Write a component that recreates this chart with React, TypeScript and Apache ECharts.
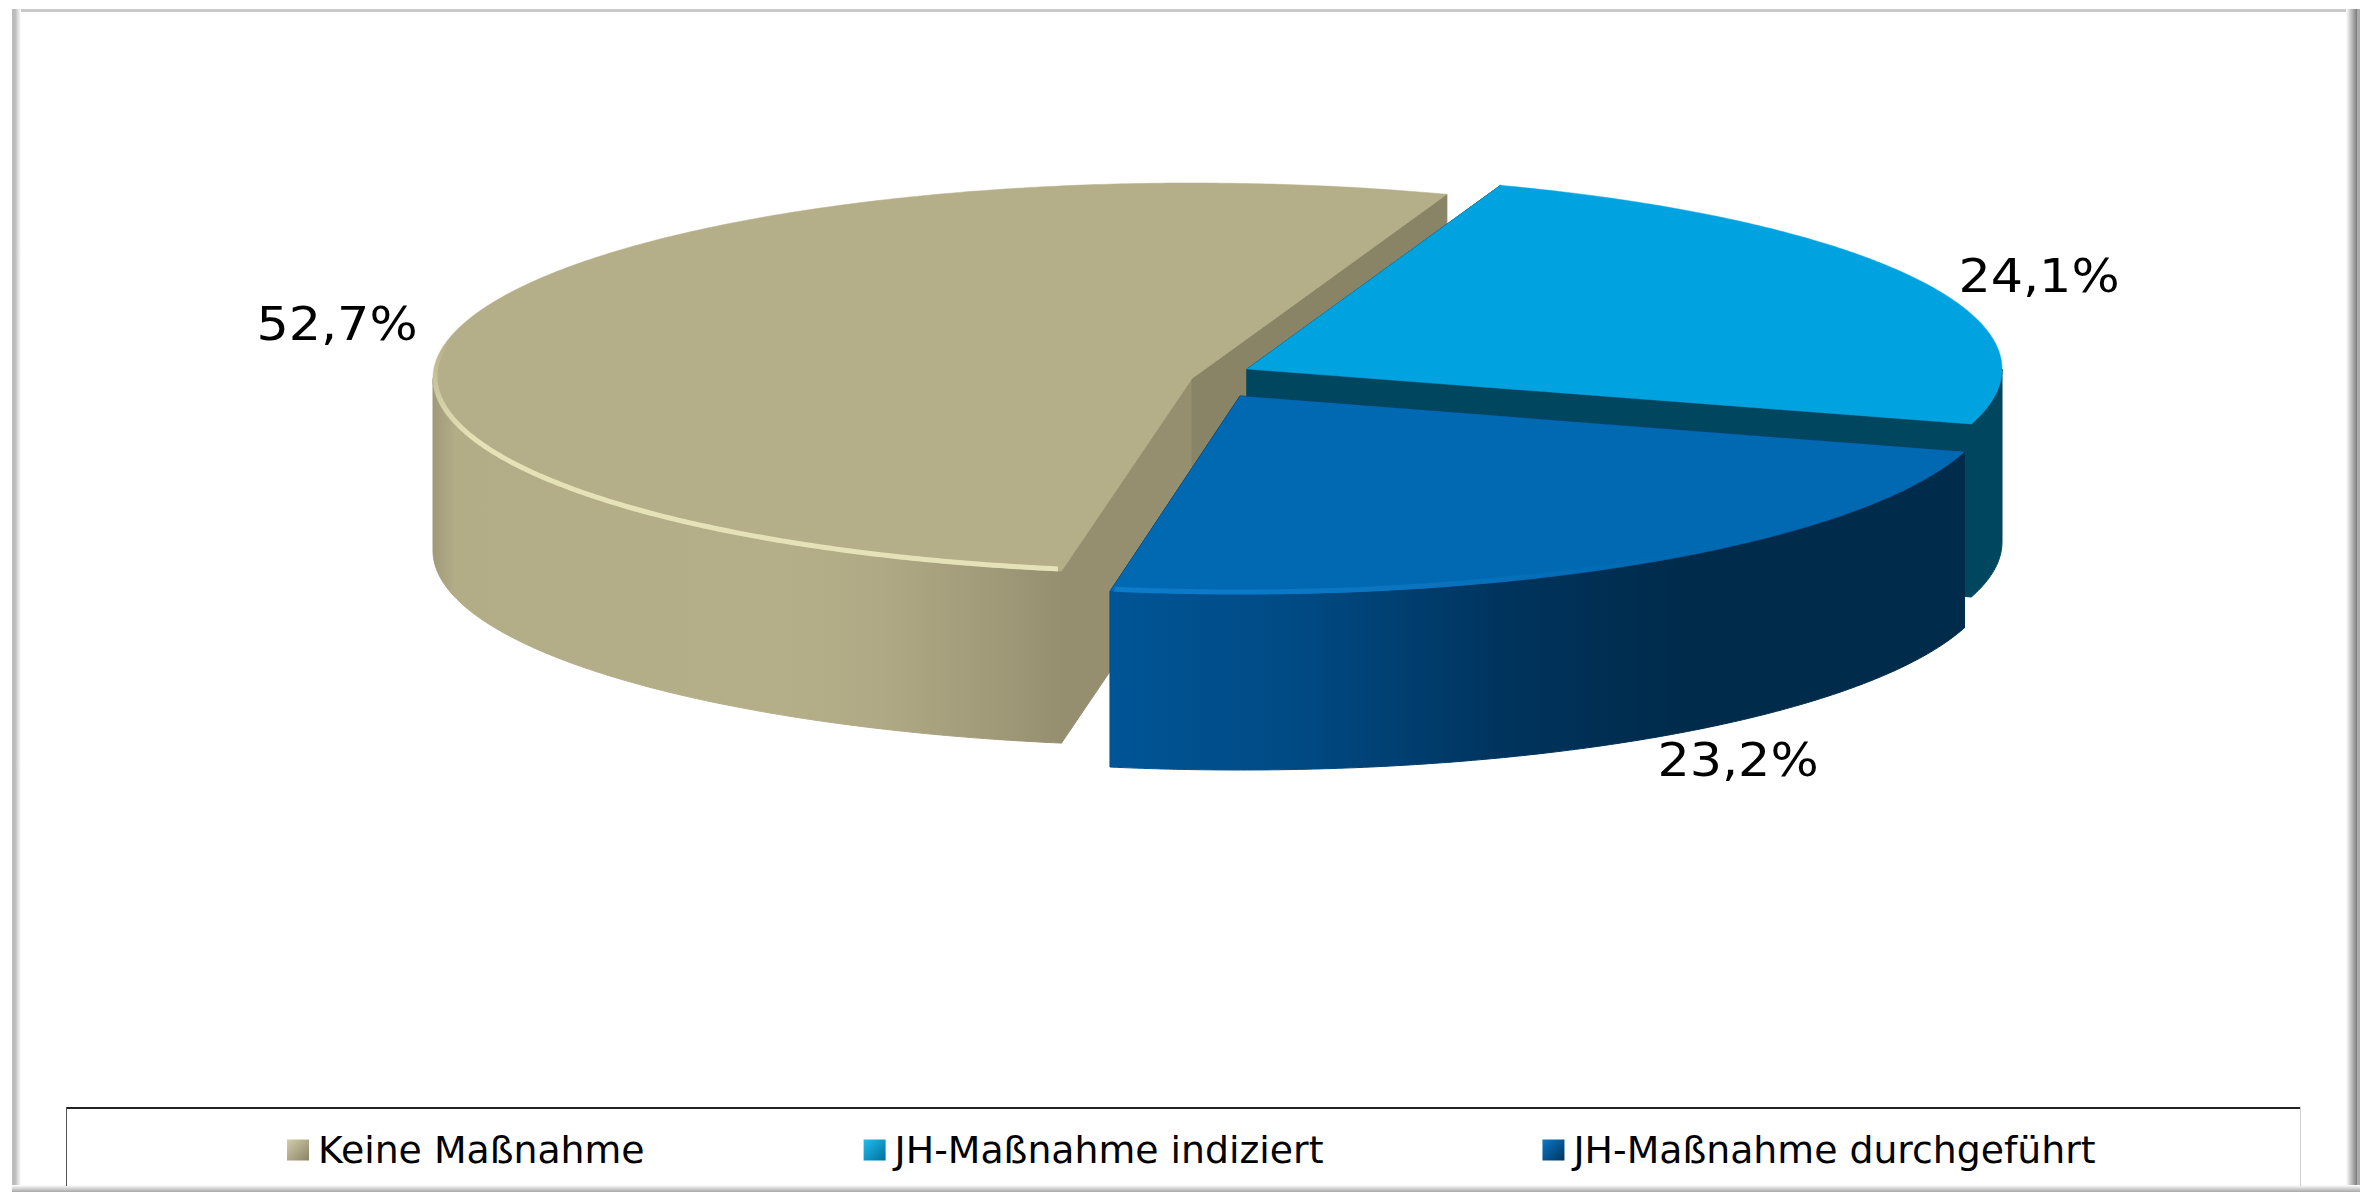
import React, { useEffect, useRef } from "react";
import * as echarts from "echarts";

const categories = ["Keine Maßnahme", "JH-Maßnahme indiziert", "JH-Maßnahme durchgeführt"];
const values = [52.7, 24.1, 23.2];
const valueLabels = ["52,7%", "24,1%", "23,2%"];

const W = 2370;
const H = 1192;
const FIRST_ANGLE = 189.9;
const centers = [[1192, 378.5], [1247, 369], [1240, 396]];
const radiiX = [759, 755, 755];
const radiiY = [195.5, 195, 198];
const depths = [172, 173, 176];
const labelAnchors = [[337, 324], [2039, 276], [1738, 760]];
const topColors = ["#B5AF89", "#00A3E0", "#0069B2"];
const startFaceColors = ["#958F70", "#00465F", "#002B4B"];
const endFaceColors = ["#8A8467", "#00465F", "#002B4B"];
const wallStops: [number, string][][] = [
  [[433, "#A09A7A"], [455, "#B2AC87"], [780, "#B5AF89"], [880, "#AFA985"], [1000, "#9F9978"], [1062, "#958F70"]],
  [[1900, "#00465F"], [2010, "#00465F"]],
  [[1109, "#005596"], [1300, "#004A84"], [1500, "#00345E"], [1680, "#002B4B"], [1970, "#002B4B"]],
];
const legendColors = [
  ["#D2CDAA", "#8A8467"],
  ["#22BDF0", "#00709C"],
  ["#0A78C8", "#00345E"],
];

const rad = (d: number) => (d * Math.PI) / 180;
const total = values.reduce((s, v) => s + v, 0);
const angleBefore = (i: number) =>
  FIRST_ANGLE + (values.slice(0, i).reduce((s, v) => s + v, 0) / total) * 360;

const makeRenderItem = (i: number) => (_params: any, api: any) => {
  const sweep = (api.value(0) / total) * 360;
  const a = angleBefore(i);
  const b = a + sweep;
  const c = centers[i];
  const rx = radiiX[i];
  const ry = radiiY[i];
  const depth = depths[i];
  const pt = (ctr: number[], rX: number, t: number) => [
    ctr[0] + rX * Math.sin(rad(t)),
    ctr[1] - ry * Math.cos(rad(t)),
  ];
  const arc = (ctr: number[], rX: number, from: number, to: number) => {
    const n = Math.max(2, Math.ceil(Math.abs(to - from) * 2));
    return Array.from({ length: n + 1 }, (_, k) => pt(ctr, rX, from + ((to - from) * k) / n));
  };
  const down = (p: number[]) => [p[0], p[1] + depth];
  const children: any[] = [];

  const stops = wallStops[i];
  const x0 = stops[0][0];
  const x1 = stops[stops.length - 1][0];
  const wallFill = new echarts.graphic.LinearGradient(
    x0, 0, x1, 0,
    stops.map(([x, color]) => ({ offset: (x - x0) / (x1 - x0), color })),
    true,
  );

  // Cut faces first: the wall and top of the same slice hide what faces away
  const ps = pt(c, rx, a);
  const pe = pt(c, rx, b);
  children.push({
    type: "polygon",
    shape: { points: [c, ps, down(ps), down(c)] },
    style: { fill: startFaceColors[i], stroke: startFaceColors[i], lineWidth: 1 },
  });
  children.push({
    type: "polygon",
    shape: { points: [c, pe, down(pe), down(c)] },
    style: { fill: endFaceColors[i], stroke: endFaceColors[i], lineWidth: 1 },
  });

  // Outer wall: only the front half of the ellipse is visible
  for (const k of [0, 1]) {
    const lo = Math.max(a, 90 + 360 * k);
    const hi = Math.min(b, 270 + 360 * k);
    if (hi > lo) {
      const edge = arc(c, rx, lo, hi);
      children.push({
        type: "polygon",
        shape: { points: [...edge, ...edge.slice().reverse().map(down)] },
        style: { fill: wallFill, stroke: wallFill, lineWidth: 1 },
      });
    }
  }

  // Top
  children.push({
    type: "polygon",
    shape: { points: [c, ...arc(c, rx, a, b)] },
    style: { fill: topColors[i], stroke: topColors[i], lineWidth: 0.5 },
  });

  // Bevel highlight on the front rim
  if (i === 0) {
    children.push({
      type: "polyline",
      shape: { points: arc([c[0], c[1] - 2], rx - 2, a + 0.3, 283) },
      style: {
        fill: "none",
        lineWidth: 5,
        stroke: new echarts.graphic.LinearGradient(0, 340, 0, 440, [
          { offset: 0, color: "rgba(230,226,184,0)" },
          { offset: 1, color: "#E6E2B8" },
        ], true),
      },
    });
  }
  if (i === 2) {
    children.push({
      type: "polyline",
      shape: { points: arc([c[0], c[1] - 2], rx - 2, 130 + 360, b - 0.3) },
      style: {
        fill: "none",
        lineWidth: 5,
        stroke: new echarts.graphic.LinearGradient(1110, 0, 1750, 0, [
          { offset: 0, color: "#0C7CCC" },
          { offset: 0.5, color: "#0A74C0" },
          { offset: 1, color: "rgba(0,105,178,0)" },
        ], true),
      },
    });
  }

  // Value label
  children.push({
    type: "text",
    x: labelAnchors[i][0],
    y: labelAnchors[i][1],
    scaleX: 1.08,
    style: {
      text: valueLabels[i],
      fontFamily: "DejaVu Sans",
      fontSize: 47,
      fill: "#000000",
      align: "center",
      verticalAlign: "middle",
    },
  });

  return { type: "group", children };
};

const vgrad = (c: string[]) =>
  new echarts.graphic.LinearGradient(0, 0, 1, 1, [
    { offset: 0, color: c[0] },
    { offset: 1, color: c[1] },
  ]);

export default function App() {
  const ref = useRef<HTMLDivElement>(null);
  useEffect(() => {
    const chart = echarts.init(ref.current!, null, { renderer: "svg", width: W, height: H });
    chart.setOption({
      animation: false,
      backgroundColor: "#FFFFFF",
      legend: {
        left: 287,
        top: 1131,
        orient: "horizontal",
        itemWidth: 22,
        itemHeight: 21,
        itemGap: 219,
        padding: 0,
        selectedMode: false,
        textStyle: { fontFamily: "DejaVu Sans", fontSize: 37.8, color: "#000000", padding: [0, 0, 0, 4] },
        data: categories.map((name, i) => ({
          name,
          icon: "rect",
          itemStyle: { color: vgrad(legendColors[i]) },
        })),
      },
      series: categories.map((name, i) => ({
        type: "custom",
        name,
        coordinateSystem: "none",
        silent: true,
        z: 2 + i,
        data: [[values[i]]],
        itemStyle: { color: topColors[i] },
        renderItem: makeRenderItem(i),
      })),
      graphic: [
        // Chart frame
        { type: "rect", shape: { x: 12, y: 9, width: 2348, height: 3 }, style: { fill: "#CACACA" }, z: 1 },
        {
          type: "rect",
          shape: { x: 12, y: 9, width: 9, height: H - 9 },
          style: {
            fill: new echarts.graphic.LinearGradient(0, 0, 1, 0, [
              { offset: 0, color: "#BBBBBB" },
              { offset: 0.35, color: "#BDBDBD" },
              { offset: 1, color: "#FFFFFF" },
            ]),
          },
          z: 1,
        },
        {
          type: "rect",
          shape: { x: 2346, y: 9, width: 14, height: H - 9 },
          style: {
            fill: new echarts.graphic.LinearGradient(0, 0, 1, 0, [
              { offset: 0, color: "#FFFFFF" },
              { offset: 0.78, color: "#7C7C7C" },
              { offset: 0.8, color: "#ABABAB" },
              { offset: 1, color: "#ABABAB" },
            ]),
          },
          z: 1,
        },
        {
          type: "rect",
          shape: { x: 12, y: 1185, width: 2348, height: 7 },
          style: {
            fill: new echarts.graphic.LinearGradient(0, 0, 0, 1, [
              { offset: 0, color: "#FFFFFF" },
              { offset: 1, color: "#A8A8A8" },
            ]),
          },
          z: 1,
        },
        // Legend box
        { type: "rect", shape: { x: 66, y: 1107, width: 2235, height: 2 }, style: { fill: "#222222" }, z: 1 },
        { type: "rect", shape: { x: 66, y: 1107, width: 1, height: 79 }, style: { fill: "#555555" }, z: 1 },
        { type: "rect", shape: { x: 2300, y: 1107, width: 1, height: 79 }, style: { fill: "#D0D0D0" }, z: 1 },
      ],
    });
    return () => chart.dispose();
  }, []);
  return <div ref={ref} style={{ position: "absolute", left: 0, top: 0, width: W, height: H }} />;
}
